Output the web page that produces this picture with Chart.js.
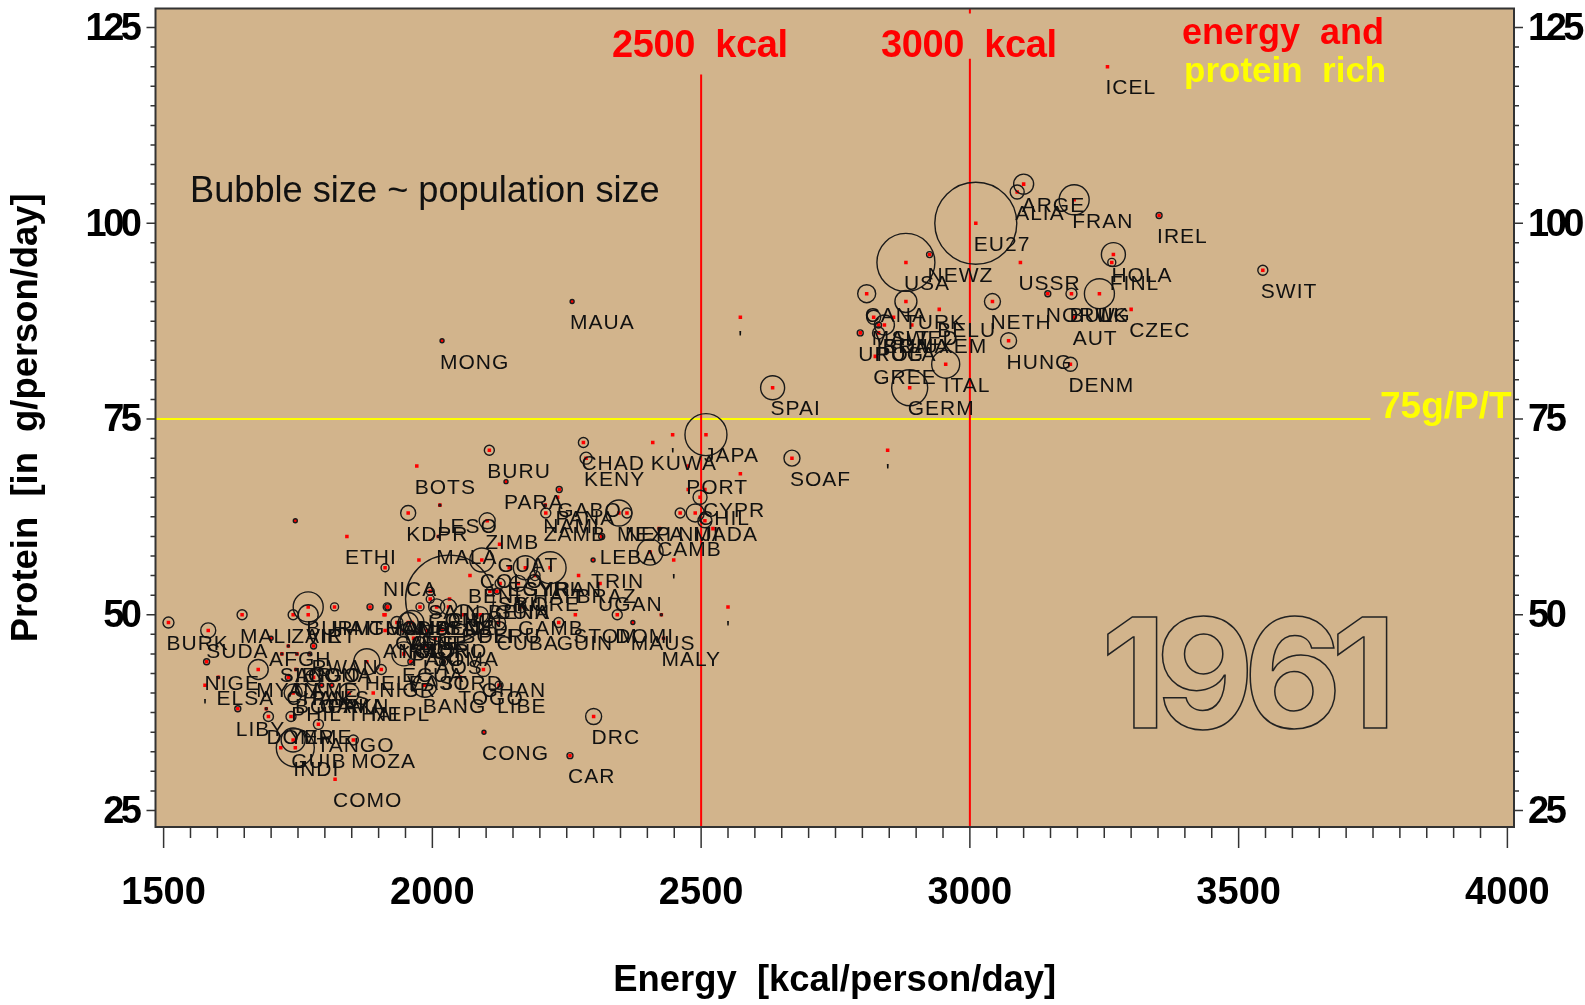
<!DOCTYPE html>
<html>
<head>
<meta charset="utf-8">
<title>Energy and protein 1961</title>
<script src="https://cdn.jsdelivr.net/npm/chart.js@4/dist/chart.umd.min.js"></script>
<style>
  html, body { margin: 0; padding: 0; background: #fff; }
  canvas { display: block; }
</style>
</head>
<body>
<div style="width:1585px;height:1005px"><canvas id="chart"></canvas></div>
<script>
// values; "'" is the tiny tick-like label, "" means no label readable
const names = [
  "EU27","USA","ARGE","ALIA","FRAN","IREL","NEWZ","USSR","HOLA","FINL",
  "SWIT","CANA","TURK","NETH","NORW","BULG","UK","AUT","CZEC","HUNG",
  "DENM","ITAL","GERM","GREE","BELU","URUG","ISRA","ROMA","POLA","SWED",
  "LUXEM","MALT","ICEL","SPAI","SOAF","'","JAPA","'","KUWA","CHAD",
  "KENY","BURU","BOTS","PARA","LESO","GABO","PANA","NAMI","ZAMB","KDPR",
  "ZIMB","MALA","GUAT","MEXI","NEPA","LEBA","TRIN","BRAZ","UGAN","DOMI",
  "STOM","","MAUS","MALY","'","'","PORT","CYPR","","CHIL",
  "MADA","NIJI","","","CAMB","","'","CHIN","NICA","SAIN",
  "CONG","MALD","HOND","","BENI","","EGYP","IRAN","SYRI","COLO",
  "SRIL","BENN","GUIA","KORE","HAIT","GUIN","CUBA","GAMB","PERU","BOLI",
  "SAUD","SENE","VENE","ALGE","MORO","ECUA","EAST","JORD","TUNI","SOMA",
  "","IRAQ","COTE","PAKI","LAOS","GHAN","NIGR","TOGO","LIBE","BANG",
  "NEPL","AFGH","MYAN","LIBY","","DOMR","YEME","PHIL","GUIB","INDI",
  "","TANGO","MOZA","COMO","BURM","VIET","ZAIR","HAIT","GUAD","MAUR",
  "","ANGL","RWAN","","SIER","ANGO","CONA","BURK","SUDA","MALI",
  "NIGE","'","ELSA","ETHI","CAME","CHAN","BOUR","GAMA","PAKN","THAI",
  "PAKS","HELV","CONG","CAR","DRC","MONG","MAUA","'",""
];
const energy = [
  3011,2881,3100,3088,3194,3352,2925,3094,3267,3264,
  3545,2808,2881,3042,3145,3189,3241,3195,3300,3072,
  3187,2955,2888,2824,2943,2796,2830,2841,2830,2858,
  2892,2821,3256,2633,2669,2847,2509,2447,2410,2281,
  2286,2106,1971,2137,2014,2236,2233,2210,2211,1955,
  2102,2011,2125,2347,2362,2315,2299,2272,2312,2344,
  2266,2426,2373,2430,2550,2573,2476,2507,2476,2498,
  2489,2461,2507,2522,2422,2405,2449,2032,1912,1996,
  1996,1977,1916,1910,2070,1975,2143,2219,2173,2092,
  2126,2107,2120,2160,2191,2235,2123,2163,2089,2058,
  2030,2008,1955,1962,1977,1947,1960,2021,1990,2005,
  2018,1946,1934,1965,1986,2095,1905,2052,2124,1986,
  1890,1700,1676,1638,1691,1695,1737,1741,1741,1745,
  1718,1788,1853,1819,1769,1769,1741,1818,1884,1917,
  1912,1912,1779,1732,1720,1748,1772,1509,1583,1646,
  1580,1577,1602,1841,1746,1732,1748,1794,1813,1845,
  1779,1878,2096,2256,2300,2018,2260,2573,1745
];
const protein = [
  100,95,105,104,103,101,96,95,96,95,
  94,91,90,90,91,91,91,88,89,85,
  82,82,79,83,89,86,87,87,86,88,
  87,88,120,79,70,71,73,73,72,72,
  70,71,69,67,64,66,65,64,63,63,
  62,60,59,63,63,60,57,55,54,50,
  50,50,49,47,51,68,69,66,66,65,
  63,63,62,61,61,58,57,52,56,53,
  52,51,51,50,55,57,56,56,56,57,
  54,53,53,54,55,49,49,51,50,50,
  51,51,49,49,48,45,44,44,48,47,
  48,48,49,47,46,43,43,42,41,41,
  40,47,43,38,38,37,37,40,34,33,
  33,36,34,29,51,50,50,51,51,51,
  50,48,46,46,45,45,45,49,48,50,
  44,41,42,60,43,42,41,41,41,40,
  42,44,35,32,37,85,90,88,62
];
const popRadius = [
  41,29,10,7,15,3,3,0,12,4,
  5,9,11,8,3,5.5,15,0,0,8,
  7,14,18,0,0,3,3,10,6,0,
  0,7,0,12,8,0,21,0,0,5,
  6,5,0,2,1,3,0,1,5,7.5,
  8,1,0,13,5,3,2,0,0,5,
  0,1,2,1,0,0,0,0,0,7,
  9,5,7,0,1,13,0,44,4,4,
  4,4,4,0,0,0,0,16,12,12,
  5,4,3,8,5,5,7,6,8,10,
  8,8,10,12,3,12,3,4,5,6,
  5,6,6,7,4,7,5,0,4,12,
  0,2,10,3,1,5,5,9,12,19,
  0,5,5,0,15,10,5,4,3,3,
  0,0,3,1,1,1,2,5.5,7.5,5,
  3,0,1,0,1,3,2,2,2,10,
  8,13,2,3,8,2,2,0,2
];
const xMajor = [1500, 2000, 2500, 3000, 3500, 4000];
const yMajor = [25, 50, 75, 100, 125];
const xMinorStep = 50;
const yMinorStep = 2.5;
const kcalLines = [2500, 3000];
const kcalTop = [119, 121];
const richLine = 75;

const FONT = '"Liberation Sans", Arial, sans-serif';
const TAN = "#d2b48c";
const INK = "#111111";
const Y_MIN = 22.89;
const Y_MAX = 127.43;

const xAll = [];
for (let v = xMajor[0]; v <= 4000; v += xMinorStep) xAll.push(v);
const yAll = [];
for (let v = yMajor[0]; v <= 125; v += yMinorStep) yAll.push(v);

const bubbles = energy.map((e, i) => ({ x: e, y: protein[i], r: popRadius[i] }));
const centres = energy.map((e, i) => ({ x: e, y: protein[i] }));

function text(ctx, str, x, y, font, color, spacing, align) {
    ctx.font = font;
    ctx.fillStyle = color;
    ctx.letterSpacing = (spacing || 0) + "px";
    ctx.textAlign = align || "left";
    ctx.textBaseline = "middle";
    ctx.fillText(str, x, y);
}

// keep the plot frame where the original has it, no room for label overhang
function noOverhang(scale) {
    scale.paddingLeft = 0;
    scale.paddingRight = 0;
    scale.paddingTop = 0;
    scale.paddingBottom = 0;
}

const decorPlugin = {
    id: "decor",
    beforeDraw(chart) {
        const { ctx, chartArea: a } = chart;
        ctx.save();
        ctx.fillStyle = TAN;
        ctx.fillRect(a.left, a.top, a.right - a.left, a.bottom - a.top);
        ctx.restore();
    },
    afterDraw(chart) {
        const { ctx, chartArea: a, scales } = chart;
        ctx.save();

        // country codes sit under each point
        names.forEach((n, i) => {
            if (!n) return;
            const px = scales.x.getPixelForValue(energy[i]);
            const py = scales.y.getPixelForValue(protein[i]);
            text(ctx, n, px - 2, py + 22, "21px " + FONT, INK, 1);
        });

        // frame
        ctx.strokeStyle = "#333333";
        ctx.lineWidth = 2;
        ctx.strokeRect(a.left, a.top, a.right - a.left, a.bottom - a.top);

        // tick marks, long on the labelled values
        ctx.lineWidth = 1.5;
        ctx.beginPath();
        xAll.forEach(v => {
            const p = scales.x.getPixelForValue(v);
            ctx.moveTo(p, a.bottom);
            ctx.lineTo(p, a.bottom + (xMajor.includes(v) ? 21 : 11));
        });
        yAll.forEach(v => {
            const p = scales.y.getPixelForValue(v);
            const len = yMajor.includes(v) ? 9 : 5;
            ctx.moveTo(a.left - len, p);
            ctx.lineTo(a.left, p);
            ctx.moveTo(a.right, p);
            ctx.lineTo(a.right + len, p);
        });
        ctx.stroke();

        // y tick labels, squeezed like the original
        yMajor.forEach(v => {
            const p = scales.y.getPixelForValue(v) + 2;
            const big = "bold 38px " + FONT;
            text(ctx, String(v), a.left - 17, p, big, "#000000", -3.5, "right");
            text(ctx, String(v), a.right + 14, p, big, "#000000", -3.5, "left");
        });

        // annotations
        const red = "#ff0000", yellow = "#ffff00";
        text(ctx, "2500  kcal", 612, 47, "bold 38px " + FONT, red, -0.4);
        text(ctx, "3000  kcal", 881, 47, "bold 38px " + FONT, red, -0.4);
        text(ctx, "energy  and", 1182, 34, "bold 36px " + FONT, red);
        text(ctx, "protein  rich", 1184, 72, "bold 35px " + FONT, yellow);
        text(ctx, "75g/P/T", 1380, 408, "bold 37px " + FONT, yellow);
        text(ctx, "Bubble size ~ population size", 190, 192, "36.2px " + FONT, INK);

        // year, outline only
        ctx.font = 'bold 152px Inter, ' + FONT;
        ctx.letterSpacing = "-11px";
        ctx.textAlign = "left";
        ctx.textBaseline = "alphabetic";
        ctx.strokeStyle = "#222222";
        ctx.lineWidth = 1.5;
        ctx.strokeText("1961", 1101, 728);
        ctx.restore();
    }
};

new Chart(document.getElementById("chart"), {
    type: "bubble",
    data: {
        datasets: [
            {
                label: "population",
                data: bubbles,
                backgroundColor: "rgba(0,0,0,0)",
                borderColor: "#1a1a1a",
                borderWidth: 1.4,
                hoverRadius: 0
            },
            {
                type: "scatter",
                label: "centre",
                data: centres,
                pointStyle: "rect",
                pointRadius: 2.5,
                backgroundColor: "#ff0000",
                borderWidth: 0
            },
            {
                type: "line",
                label: "2500 kcal",
                data: [{ x: kcalLines[0], y: Y_MIN }, { x: kcalLines[0], y: kcalTop[0] }],
                borderColor: "#ff0000",
                borderWidth: 2,
                pointRadius: 0
            },
            {
                type: "line",
                label: "3000 kcal",
                data: [
                    { x: kcalLines[1], y: Y_MIN }, { x: kcalLines[1], y: kcalTop[1] },
                    { x: kcalLines[1], y: null },
                    { x: kcalLines[1], y: 126.8 }, { x: kcalLines[1], y: Y_MAX }
                ],
                borderColor: "#ff0000",
                borderWidth: 2,
                pointRadius: 0
            },
            {
                type: "line",
                label: "75g/P/T",
                data: [{ x: 1485, y: richLine }, { x: 3745, y: richLine }],
                borderColor: "#ffff00",
                borderWidth: 2,
                pointRadius: 0
            }
        ]
    },
    options: {
        responsive: true,
        maintainAspectRatio: false,
        animation: false,
        events: [],
        layout: { autoPadding: false, padding: { top: 8.5, left: 0, right: 0, bottom: 0 } },
        plugins: { legend: { display: false }, tooltip: { enabled: false } },
        scales: {
            x: {
                type: "linear",
                min: 1484.9,
                max: 4012.3,
                afterBuildTicks(scale) { scale.ticks = xAll.map(v => ({ value: v })); },
                afterFit(scale) { scale.height = 178; noOverhang(scale); },
                grid: { display: false },
                border: { display: false },
                ticks: {
                    autoSkip: false,
                    maxRotation: 0,
                    minRotation: 0,
                    padding: 36,
                    color: "#000000",
                    font: { family: FONT, size: 38, weight: "bold" },
                    callback: v => (xMajor.includes(v) ? String(v) : "")
                },
                title: {
                    display: true,
                    text: "Energy  [kcal/person/day]",
                    color: "#000000",
                    font: { family: FONT, size: 36.4, weight: "bold" },
                    padding: { top: 0, bottom: 2 }
                }
            },
            y: {
                type: "linear",
                min: Y_MIN,
                max: Y_MAX,
                afterFit(scale) { scale.width = 155.5; noOverhang(scale); },
                grid: { display: false },
                border: { display: false },
                ticks: { display: false },
                title: {
                    display: true,
                    text: "Protein  [in  g/person/day]",
                    color: "#000000",
                    font: { family: FONT, size: 36.4, weight: "bold" },
                    padding: { top: 5, bottom: 0 }
                }
            },
            y2: {
                type: "linear",
                position: "right",
                min: Y_MIN,
                max: Y_MAX,
                afterFit(scale) { scale.width = 71; noOverhang(scale); },
                grid: { display: false },
                border: { display: false },
                ticks: { display: false }
            }
        }
    },
    plugins: [decorPlugin]
});
</script>
</body>
</html>
